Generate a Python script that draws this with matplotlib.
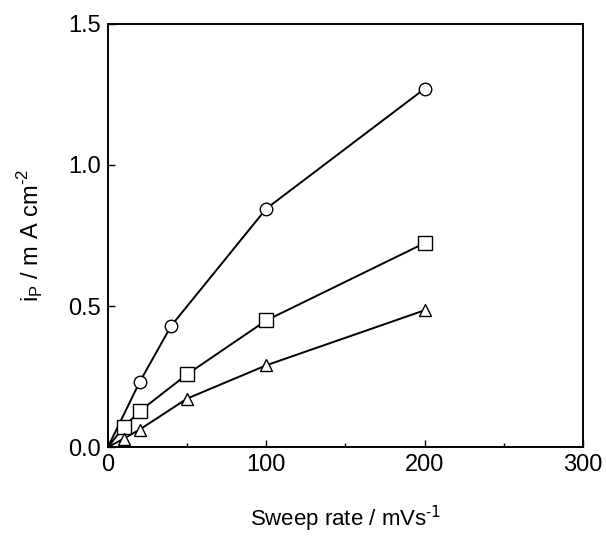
import matplotlib
matplotlib.use("Agg")
import matplotlib.pyplot as plt
from matplotlib.ticker import MultipleLocator

plt.rcParams['font.family'] = ['Liberation Sans', 'DejaVu Sans']

# Data (origin included; markers not drawn at origin)
x_circle = [0, 20, 40, 100, 200]
y_circle = [0, 0.23, 0.43, 0.845, 1.27]
x_square = [0, 10, 20, 50, 100, 200]
y_square = [0, 0.071, 0.127, 0.258, 0.449, 0.723]
x_tri = [0, 10, 20, 50, 100, 200]
y_tri = [0, 0.03, 0.062, 0.172, 0.29, 0.485]

x_ticks = [0, 100, 200, 300]
y_ticks = [0.0, 0.5, 1.0, 1.5]

fig = plt.figure(figsize=(6.06, 5.42), dpi=100)
ax = fig.add_axes([0.178, 0.175, 0.784, 0.781])

common = dict(color='black', lw=1.4, mfc='white', mec='black', mew=1.0, markevery=slice(1, None))
ax.plot(x_circle, y_circle, marker='o', ms=9, **common)
ax.plot(x_square, y_square, marker='s', ms=10, **common)
ax.plot(x_tri, y_tri, marker='^', ms=9, **common)

ax.set_xlim(0, 300)
ax.set_ylim(0, 1.5)
ax.set_xticks(x_ticks)
ax.set_yticks(y_ticks)
ax.set_xticklabels([str(v) for v in x_ticks])
ax.set_yticklabels([f"{v:.1f}" for v in y_ticks])
ax.xaxis.set_minor_locator(MultipleLocator(50))
ax.tick_params(axis='both', which='major', direction='in', length=5, width=1, labelsize=17, pad=5)
ax.tick_params(axis='x', which='minor', direction='in', length=3, width=1)
for s in ax.spines.values():
    s.set_linewidth(1.4)

ax.set_xlabel('Sweep rate / mVs$^{\\mathregular{\u2010}1}$', fontsize=16, labelpad=20)
ax.set_ylabel('i$_{\\mathregular{P}}$ / m A cm$^{\\mathregular{\u20102}}$', fontsize=17, labelpad=16)

fig.savefig('out.png', dpi=100)
